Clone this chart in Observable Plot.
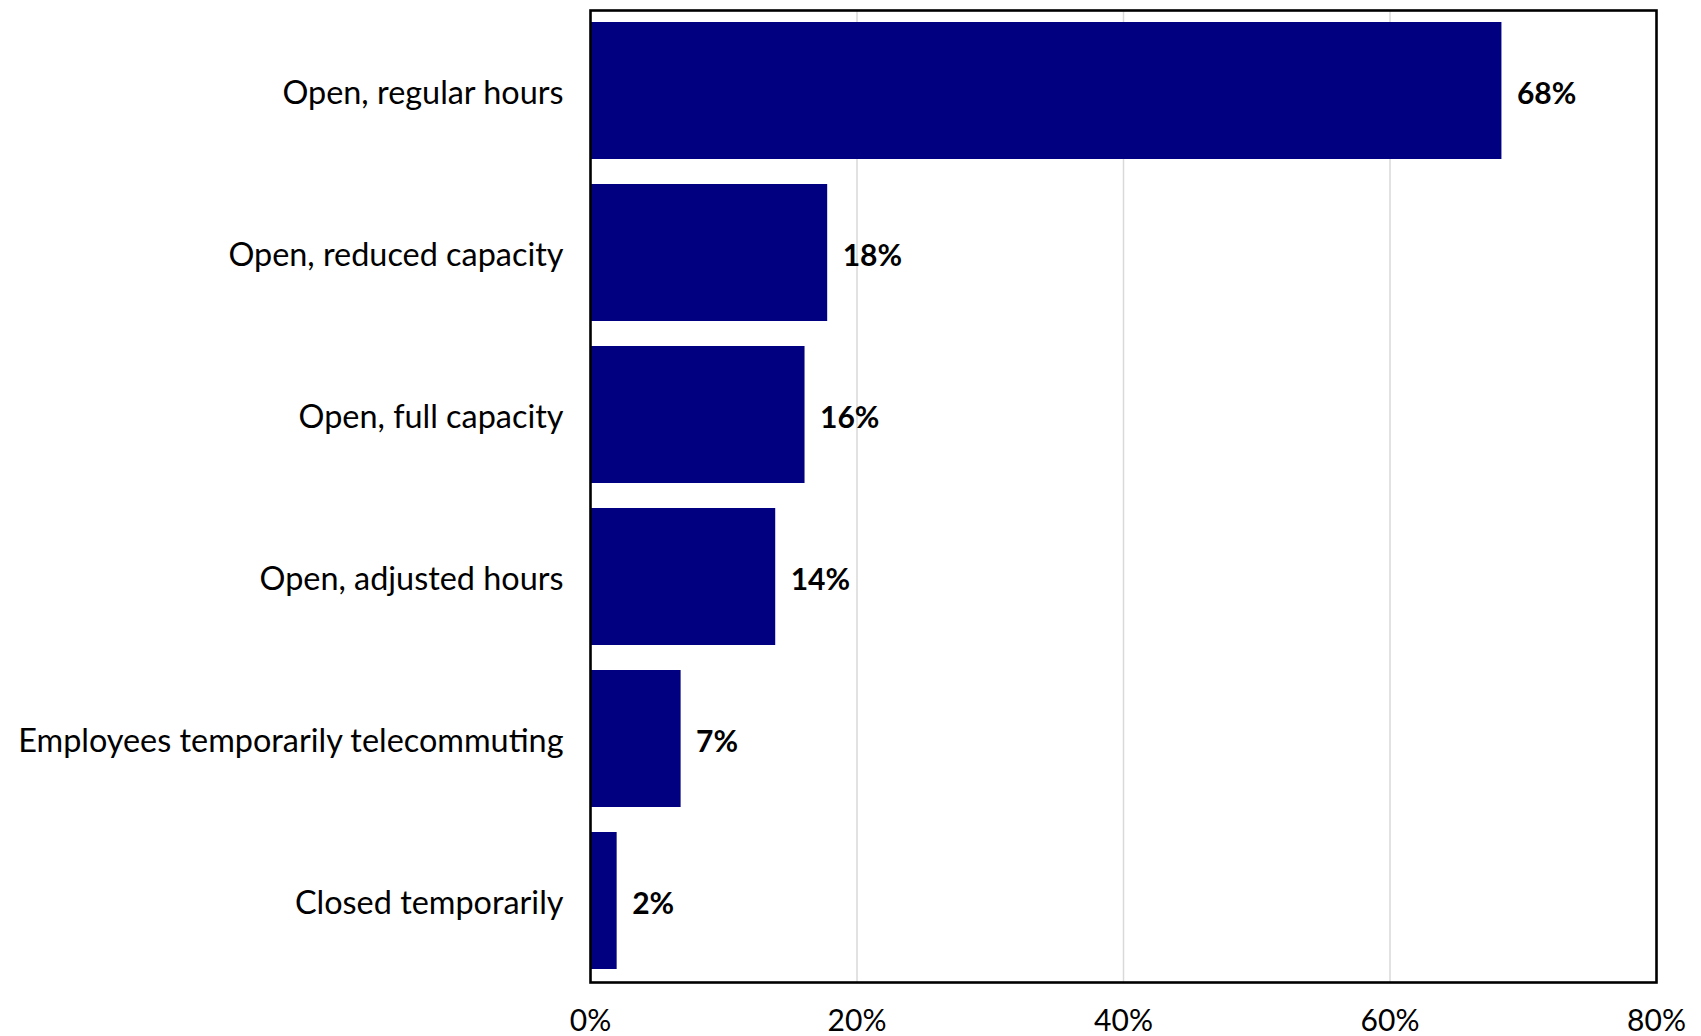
<!DOCTYPE html>
<html>
<head>
<meta charset="utf-8">
<script src="https://cdn.jsdelivr.net/npm/d3@7"></script>
<script src="https://cdn.jsdelivr.net/npm/@observablehq/plot@0.6"></script>
<style>
  html, body { margin: 0; padding: 0; background: #fff; }
  #chart svg { display: block; }
</style>
</head>
<body>
<div id="chart"></div>
<script>
const categories = [
  "Open, regular hours",
  "Open, reduced capacity",
  "Open, full capacity",
  "Open, adjusted hours",
  "Employees temporarily telecommuting",
  "Closed temporarily"
];
const values = [68.4, 17.8, 16.1, 13.9, 6.8, 2.0];
const xTicks = [0, 20, 40, 60, 80];

const data = categories.map((c, i) => ({category: c, value: values[i]}));

const chart = Plot.plot({
  width: 1701,
  height: 1036,
  marginLeft: 590,
  marginRight: 45,
  marginTop: 10,
  marginBottom: 54,
  style: {fontFamily: "Lato, sans-serif", fontSize: "30px", color: "#000", background: "#fff"},
  x: {domain: [0, 80], label: null},
  y: {domain: categories, paddingInner: 0.153, paddingOuter: 0.0755, label: null},
  marks: [
    Plot.gridX(xTicks.filter(t => t > 0 && t < 80), {stroke: "#d9d9d9", strokeOpacity: 1, strokeWidth: 1.5}),
    Plot.barX(data, {x: "value", y: "category", fill: "#000080"}),
    Plot.text(data, {x: "value", y: "category", text: d => Math.round(d.value) + "%", textAnchor: "start", dx: 15, dy: 3, fontWeight: "bold", fontSize: 30, fill: "#000"}),
    Plot.axisX({ticks: xTicks, tickFormat: d => d + "%", tickSize: 0, tickPadding: 27, fontSize: 30, label: null}),
    Plot.axisY({tickSize: 0, tickPadding: 27, dy: 3, fontSize: 32.4, label: null}),
    Plot.frame({stroke: "#000", strokeWidth: 2.6})
  ]
});
document.getElementById("chart").appendChild(chart);
</script>
</body>
</html>
